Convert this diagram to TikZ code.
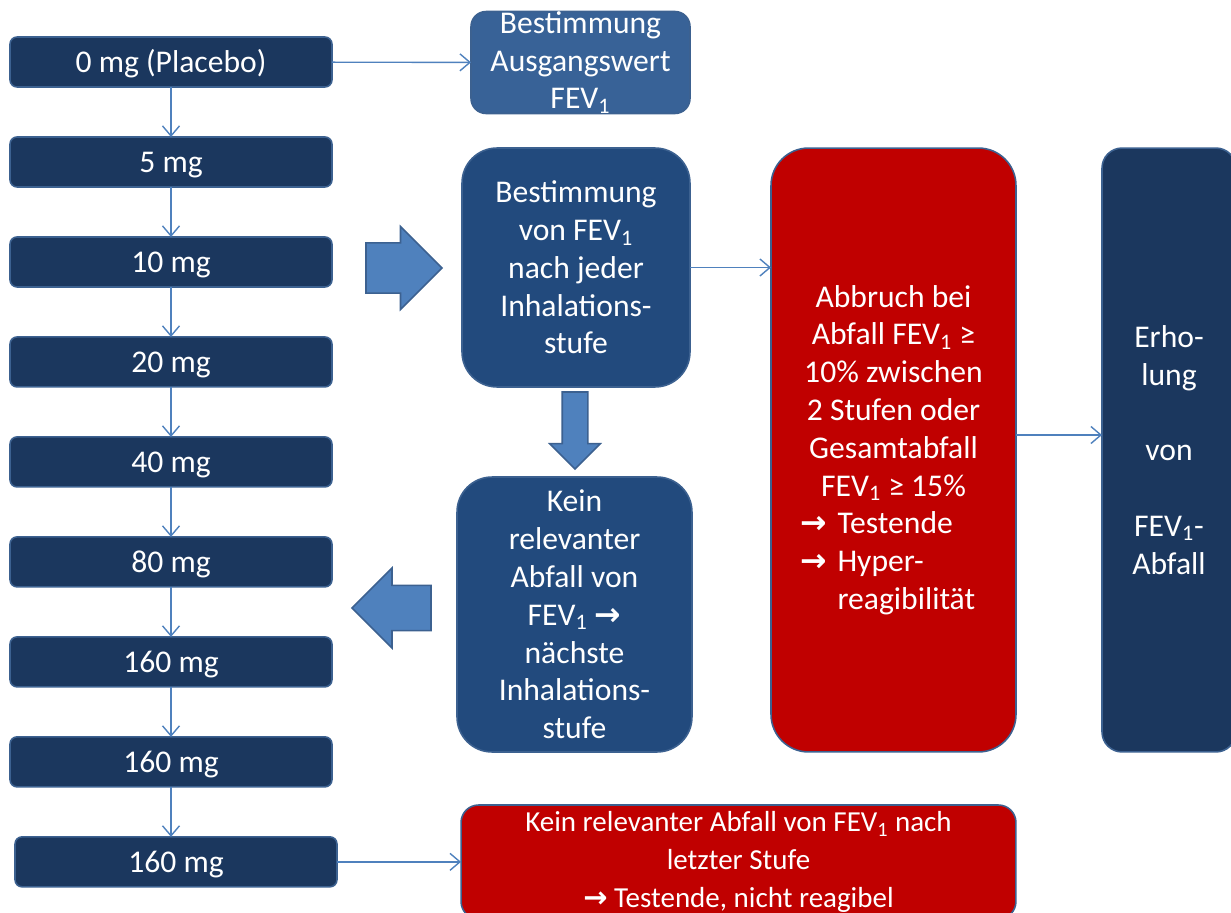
\documentclass[tikz,border=0pt]{standalone}
\usepackage{fontspec}
\setmainfont{Carlito}
\newfontfamily\symfont{DejaVu Sans}[BoldFont=DejaVu Sans Bold]
\usepackage{xcolor}
\definecolor{doseNavy}{HTML}{1B375E}
\definecolor{stepBlue}{HTML}{224A7D}
\definecolor{baseBlue}{HTML}{386297}
\definecolor{stopRed}{HTML}{C00000}
\definecolor{edgeBlue}{HTML}{3C6190}
\definecolor{lineBlue}{HTML}{4F81BD}
\usepackage{tikz}
\usetikzlibrary{arrows.meta, positioning, shapes.arrows}
\newcommand{\FEVone}{FEV\textsubscript{1}}
\newcommand{\toarr}{{\symfont\bfseries →}}

\begin{document}
\begin{tikzpicture}[
    x=0.02cm, y=-0.02cm,
    node distance=1cm,
    box/.style     ={rectangle, draw=edgeBlue, line width=0.9pt, text=white,
                     align=center, inner sep=0pt, outer sep=0pt,
                     font=\fontsize{18}{21.5}\selectfont},
    dose/.style    ={box, fill=doseNavy, rounded corners=4pt,
                     minimum width=6.44cm, minimum height=1cm,
                     text height=15.1pt, text depth=2.9pt},
    stepbox/.style ={box, fill=stepBlue, rounded corners=0.7cm},
    stopbox/.style ={box, fill=stopRed, rounded corners=0.75cm},
    blockarr/.style={single arrow, draw=edgeBlue, line width=0.9pt, fill=lineBlue,
                     outer sep=0pt, single arrow tip angle=90},
    arrow/.style   ={-{Straight Barb[length=2mm, width=3.4mm]}, line width=0.8pt, color=lineBlue}
]
\useasboundingbox (0,0) rectangle (1231,913);

\node[dose]                (dose0)   at (171,62) {0 mg (Placebo)};
\node[dose, below=of dose0]  (dose5)   {5 mg};
\node[dose, below=of dose5]  (dose10)  {10 mg};
\node[dose, below=of dose10] (dose20)  {20 mg};
\node[dose, below=of dose20] (dose40)  {40 mg};
\node[dose, below=of dose40] (dose80)  {80 mg};
\node[dose, below=of dose80] (dose160a) {160 mg};
\node[dose, below=of dose160a] (dose160b) {160 mg};
\node[dose, below=of dose160b, xshift=0.1cm] (dose160c) {160 mg};

\node[box, fill=baseBlue, rounded corners=0.3cm, minimum width=4.38cm, minimum height=2.02cm]
    (baseline) at (580.5,62.5) {Bestimmung\\Ausgangswert\\\FEVone};
\node[stepbox, minimum width=4.56cm, minimum height=4.78cm]
    (measure) at (576,267.5) {Bestimmung\\von \FEVone\\nach jeder\\Inhalations-\\stufe};
\node[stepbox, minimum width=4.7cm, minimum height=5.5cm]
    (nodrop) at (574.5,614.5) {Kein\\relevanter\\Abfall von\\\FEVone{} \toarr\\nächste\\Inhalations-\\stufe};
\node[stopbox, minimum width=4.9cm, minimum height=12.08cm]
    (abort) at (893.5,450) {Abbruch bei\\Abfall \FEVone{} ≥\\10\% zwischen\\2 Stufen oder\\Gesamtabfall\\\FEVone{} ≥ 15\%\\
    \makebox[3.72cm][l]{\makebox[0.74cm][l]{\toarr}Testende}\\
    \makebox[3.72cm][l]{\makebox[0.74cm][l]{\toarr}Hyper-}\\
    \makebox[3.72cm][l]{\hspace{0.74cm}reagibilität}};
\node[box, fill=doseNavy, rounded corners=0.4cm, minimum width=2.68cm, minimum height=12.08cm]
    (recovery) at (1169,450) {Erho-\\lung\\\mbox{}\\von\\\mbox{}\\\FEVone-\\Abfall};
\node[stopbox, rounded corners=0.35cm, minimum width=11.1cm, minimum height=2.28cm,
      font=\fontsize{16.5}{21.5}\selectfont]
    (finalend) at (738.5,862) {Kein relevanter Abfall von \FEVone{} nach\\letzter Stufe\\\toarr{} Testende, nicht reagibel};

\node[blockarr, anchor=tail, inner sep=0.37cm, minimum height=1.52cm, minimum width=1.66cm]
    (pushright) at (366,268) {};
\node[blockarr, anchor=tail, shape border rotate=270, inner sep=0.24cm, minimum height=1.54cm, minimum width=0.98cm]
    (pushdown) at (575,392) {};
\node[blockarr, anchor=tail, shape border rotate=180, inner sep=0.31cm, minimum height=1.58cm, minimum width=1.6cm]
    (pushleft) at (431,608) {};

\draw[arrow] (dose0) -- (dose5);
\draw[arrow] (dose5) -- (dose10);
\draw[arrow] (dose10) -- (dose20);
\draw[arrow] (dose20) -- (dose40);
\draw[arrow] (dose40) -- (dose80);
\draw[arrow] (dose80) -- (dose160a);
\draw[arrow] (dose160a) -- (dose160b);
\draw[arrow] (dose160b.south) -- (dose160b.south |- dose160c.north);
\draw[arrow] (dose0) -- (baseline);
\draw[arrow] (measure.east) -- (measure.east -| abort.west);
\draw[arrow] ([yshift=0.3cm]abort.east) -- ([yshift=0.3cm]abort.east -| recovery.west);
\draw[arrow] (dose160c) -- (dose160c -| finalend.west);
\end{tikzpicture}
\end{document}
